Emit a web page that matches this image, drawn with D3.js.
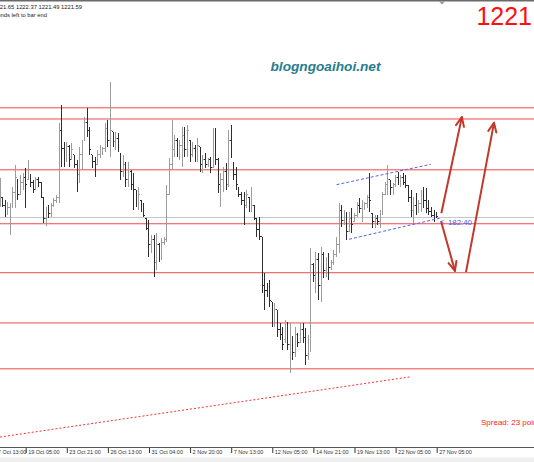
<!DOCTYPE html>
<html>
<head>
<meta charset="utf-8">
<script src="https://cdn.jsdelivr.net/npm/d3@7"></script>
<style>
  body { margin: 0; background: #fff; }
  svg { display: block; font-family: "Liberation Sans", Arial, sans-serif; }
</style>
</head>
<body>
<div id="chart"></div>
<script>
var svgWidth = 534;
var svgHeight = 462;
var plotBottom = 448;

// XAUUSD H4 bars, oldest first
var barOpen = [
  1224.3, 1224.7, 1223.5, 1222.7, 1223.2, 1223.5, 1225.6, 1227.6, 1225.2, 1227.2,
  1227.9, 1227.6, 1228.4, 1227.1, 1226.3, 1227.6, 1227.1, 1224.7, 1221.4, 1222.7,
  1222.2, 1223.5, 1224.3, 1224.8, 1235.6, 1232.7, 1230.8, 1232.9, 1230.8, 1231.6,
  1230.0, 1228.4, 1231.6, 1234.0, 1236.8, 1235.6, 1231.6, 1230.5, 1230.0, 1231.6,
  1232.4, 1232.7, 1235.9, 1234.0, 1235.3, 1233.7, 1234.3, 1231.9, 1228.9, 1230.0,
  1227.6, 1228.9, 1226.8, 1226.0, 1224.3, 1224.3, 1223.2, 1221.4, 1219.8, 1217.1,
  1217.9, 1214.3, 1217.1, 1215.5, 1217.4, 1217.9, 1225.2, 1230.0, 1232.4, 1234.0,
  1232.1, 1233.2, 1234.8, 1232.4, 1234.0, 1231.6, 1232.7, 1231.1, 1232.9, 1230.0,
  1230.8, 1230.0, 1230.8, 1229.5, 1234.8, 1230.8, 1226.8, 1227.6, 1228.9, 1226.8,
  1234.0, 1230.3, 1228.4, 1226.4, 1225.2, 1224.3, 1223.5, 1224.8, 1223.0, 1223.5,
  1221.4, 1219.5, 1218.4, 1210.6, 1209.8, 1209.3, 1207.9, 1205.0, 1206.6, 1203.4,
  1202.6, 1201.8, 1204.2, 1201.0, 1202.3, 1199.8, 1202.6, 1201.3, 1203.4, 1202.1,
  1199.3, 1201.0, 1213.9, 1212.2, 1214.7, 1210.6, 1215.5, 1213.0, 1214.3, 1213.4,
  1214.3, 1215.5, 1217.1, 1222.7, 1221.1, 1221.9, 1219.2, 1221.4, 1220.8, 1221.9,
  1223.5, 1223.0, 1223.5, 1223.8, 1224.7, 1222.2, 1220.8, 1221.4, 1220.8, 1222.4,
  1225.2, 1226.8, 1227.6, 1226.3, 1226.8, 1227.9, 1227.6, 1228.0, 1227.2, 1226.6,
  1224.7, 1222.7, 1223.5, 1222.7, 1223.8, 1225.2, 1224.3, 1223.0, 1222.4, 1221.9, 1221.65
];
var barHigh = [
  1227.9, 1224.7, 1224.3, 1224.0, 1223.8, 1226.4, 1230.0, 1227.6, 1228.4, 1228.7,
  1229.5, 1230.8, 1228.4, 1227.6, 1228.0, 1228.0, 1227.2, 1224.7, 1223.2, 1223.5,
  1223.8, 1224.7, 1225.2, 1236.8, 1239.6, 1233.7, 1233.7, 1233.2, 1233.5, 1231.6,
  1230.8, 1232.9, 1234.0, 1237.7, 1239.2, 1236.1, 1231.6, 1231.3, 1232.4, 1233.2,
  1232.9, 1236.8, 1237.2, 1243.4, 1235.3, 1235.3, 1235.1, 1231.9, 1231.6, 1230.5,
  1230.5, 1229.2, 1228.7, 1226.0, 1226.4, 1224.3, 1223.8, 1221.4, 1221.1, 1218.7,
  1218.7, 1219.0, 1217.4, 1218.2, 1218.4, 1226.8, 1231.1, 1237.2, 1234.8, 1234.3,
  1234.0, 1236.1, 1236.1, 1236.4, 1234.0, 1233.7, 1233.2, 1234.3, 1232.9, 1231.6,
  1231.9, 1231.1, 1231.3, 1235.9, 1235.9, 1231.1, 1228.7, 1229.7, 1230.3, 1235.6,
  1236.4, 1230.3, 1229.7, 1226.4, 1225.6, 1225.6, 1226.0, 1224.8, 1226.4, 1223.5,
  1221.4, 1221.6, 1218.4, 1212.6, 1210.9, 1211.4, 1207.9, 1207.7, 1206.6, 1204.5,
  1203.9, 1205.0, 1204.7, 1204.5, 1202.3, 1203.9, 1202.9, 1204.5, 1204.5, 1203.7,
  1202.6, 1216.6, 1214.2, 1216.0, 1215.8, 1216.8, 1216.0, 1215.1, 1215.8, 1214.7,
  1216.3, 1218.4, 1223.8, 1223.5, 1222.7, 1222.4, 1222.4, 1223.0, 1222.2, 1224.0,
  1224.7, 1224.3, 1224.0, 1225.2, 1228.7, 1222.2, 1221.9, 1221.9, 1222.7, 1225.6,
  1227.2, 1230.0, 1227.6, 1227.1, 1228.4, 1228.9, 1228.4, 1228.7, 1228.4, 1226.8,
  1226.0, 1224.8, 1225.5, 1224.3, 1226.0, 1226.4, 1226.3, 1224.3, 1223.2, 1222.7, 1222.37
];
var barLow = [
  1223.2, 1223.2, 1221.6, 1221.9, 1218.7, 1223.0, 1223.0, 1224.3, 1225.2, 1226.0,
  1223.0, 1227.6, 1226.4, 1225.5, 1226.0, 1226.4, 1224.7, 1220.6, 1220.1, 1221.4,
  1221.6, 1223.2, 1223.8, 1223.8, 1229.7, 1229.7, 1230.5, 1229.7, 1230.8, 1229.5,
  1225.6, 1227.1, 1229.2, 1234.0, 1234.5, 1231.6, 1229.5, 1228.0, 1230.0, 1231.1,
  1231.6, 1232.1, 1232.9, 1231.3, 1232.9, 1232.4, 1232.1, 1227.6, 1228.0, 1226.4,
  1226.4, 1226.0, 1222.7, 1223.2, 1222.7, 1222.4, 1221.6, 1219.5, 1215.1, 1215.8,
  1211.9, 1213.0, 1214.3, 1214.7, 1217.1, 1217.6, 1225.2, 1229.2, 1231.3, 1231.3,
  1230.8, 1229.7, 1231.3, 1231.3, 1230.5, 1231.3, 1230.5, 1230.5, 1228.9, 1228.7,
  1229.5, 1229.7, 1228.7, 1229.5, 1230.0, 1225.5, 1223.2, 1225.6, 1226.0, 1226.4,
  1231.1, 1227.6, 1226.0, 1224.8, 1223.5, 1220.3, 1223.0, 1222.4, 1222.4, 1221.1,
  1218.4, 1217.9, 1209.3, 1206.6, 1208.7, 1207.1, 1203.9, 1203.9, 1202.3, 1201.8,
  1200.1, 1201.3, 1200.1, 1196.4, 1198.5, 1199.0, 1200.6, 1201.3, 1201.3, 1197.7,
  1198.5, 1199.8, 1211.1, 1209.3, 1208.2, 1207.9, 1211.8, 1211.9, 1211.4, 1213.0,
  1213.9, 1215.1, 1215.8, 1220.0, 1220.3, 1217.9, 1219.2, 1219.0, 1220.8, 1221.6,
  1222.2, 1220.8, 1222.7, 1223.0, 1222.4, 1219.8, 1219.8, 1220.3, 1219.8, 1221.9,
  1225.2, 1225.2, 1225.2, 1225.2, 1226.4, 1226.8, 1226.4, 1226.8, 1226.3, 1224.0,
  1221.6, 1220.3, 1221.9, 1222.2, 1222.4, 1223.0, 1222.2, 1221.9, 1221.6, 1220.8, 1221.49
];
var barClose = [
  1226.0, 1223.5, 1222.7, 1223.2, 1223.5, 1225.6, 1227.9, 1225.2, 1227.2, 1227.9,
  1226.8, 1230.0, 1227.1, 1226.0, 1227.6, 1227.1, 1225.2, 1221.4, 1222.7, 1222.2,
  1223.5, 1224.3, 1224.8, 1235.6, 1232.7, 1230.8, 1232.9, 1230.8, 1232.4, 1230.0,
  1228.4, 1231.6, 1233.5, 1236.8, 1235.6, 1232.4, 1230.5, 1229.2, 1231.6, 1232.4,
  1232.7, 1235.9, 1234.0, 1235.6, 1233.7, 1234.3, 1232.4, 1228.9, 1230.0, 1227.6,
  1229.2, 1226.8, 1226.0, 1224.3, 1225.2, 1223.2, 1221.9, 1219.8, 1217.1, 1217.9,
  1214.3, 1217.1, 1215.5, 1217.4, 1217.9, 1225.2, 1230.0, 1232.4, 1234.0, 1232.1,
  1233.2, 1234.8, 1232.4, 1235.6, 1231.6, 1232.7, 1231.1, 1233.2, 1230.0, 1230.8,
  1230.0, 1230.8, 1229.5, 1234.8, 1230.8, 1226.8, 1227.6, 1228.9, 1226.8, 1234.0,
  1232.4, 1228.4, 1226.8, 1225.2, 1224.3, 1223.5, 1225.2, 1223.0, 1223.5, 1221.4,
  1219.5, 1218.4, 1210.6, 1209.8, 1209.3, 1208.2, 1205.0, 1206.6, 1203.4, 1202.6,
  1201.0, 1204.2, 1201.0, 1202.6, 1199.8, 1202.6, 1201.3, 1203.4, 1202.1, 1199.3,
  1201.0, 1213.9, 1212.2, 1214.7, 1210.6, 1215.5, 1213.0, 1214.3, 1213.4, 1214.3,
  1215.5, 1217.1, 1222.7, 1221.1, 1221.9, 1219.2, 1221.4, 1220.3, 1221.9, 1223.5,
  1223.0, 1223.5, 1223.8, 1224.7, 1224.3, 1220.8, 1221.4, 1220.8, 1222.4, 1225.2,
  1226.8, 1227.6, 1226.3, 1226.8, 1227.9, 1227.6, 1228.0, 1227.2, 1226.6, 1224.7,
  1222.7, 1223.5, 1222.7, 1223.8, 1225.2, 1224.3, 1223.0, 1222.4, 1221.9, 1221.4, 1221.59
];

// horizontal support / resistance levels
var levelPrices = [1239.2, 1237.4, 1229.2, 1220.5, 1212.6, 1204.5, 1197.1];
var bidPrice = 1221.59;

// time axis labels (bar index -> label)
var tickIndex = [-3, 10, 26, 42, 58, 74, 90, 106, 122, 138, 154, 170];
var tickLabels = ["17 Oct 13:00", "19 Oct 05:00", "23 Oct 21:00", "26 Oct 13:00", "31 Oct 04:00",
  "2 Nov 20:00", "7 Nov 13:00", "12 Nov 05:00", "14 Nov 21:00", "19 Nov 13:00",
  "22 Nov 05:00", "27 Nov 05:00"];

// drawn objects, [bar index, price]
var channelUpper = [[131, 1226.8], [167.7, 1230.1]];
var channelLower = [[135.9, 1218.0], [171.3, 1221.4]];
var trendLine = [[0, 1186.1], [159.6, 1195.8]];
var arrowLines = [
  [[171.8, 1222.2], [179.8, 1237.7]],
  [[171.7, 1220.9], [177.1, 1212.9]],
  [[181.4, 1212.7], [192.3, 1236.8]]
];

var svg = d3.select("#chart")
  .append("svg")
  .attr("width", svgWidth)
  .attr("height", svgHeight);

svg.append("rect")
  .attr("width", svgWidth)
  .attr("height", svgHeight)
  .attr("fill", "#fff");

var xScale = d3.scaleLinear()
  .domain([0, 170])
  .range([0, 436.7]);

var yScale = d3.scaleLinear()
  .domain([1184.33, 1256.59])
  .range([plotBottom, 0]);

var chartGroup = svg.append("g");

// watermark
chartGroup.append("text")
  .attr("x", 270.5)
  .attr("y", 71)
  .attr("font-size", 13)
  .attr("font-weight", "bold")
  .attr("font-style", "italic")
  .attr("fill", "#267c8c")
  .attr("textLength", 110)
  .attr("lengthAdjust", "spacingAndGlyphs")
  .text("blogngoaihoi.net");

// bid line
chartGroup.append("line")
  .attr("x1", 0).attr("x2", svgWidth)
  .attr("y1", Math.round(yScale(bidPrice)) + 0.5)
  .attr("y2", Math.round(yScale(bidPrice)) + 0.5)
  .attr("stroke", "#c8c8c8")
  .attr("stroke-width", 1);

// level lines
chartGroup.selectAll(".level")
  .data(levelPrices)
  .enter()
  .append("line")
  .attr("class", "level")
  .attr("x1", 0).attr("x2", svgWidth)
  .attr("y1", d => yScale(d))
  .attr("y2", d => yScale(d))
  .attr("stroke", "#f04848")
  .attr("stroke-width", 1);

// bars
var bars = chartGroup.selectAll(".bar")
  .data(d3.range(barOpen.length))
  .enter()
  .append("g")
  .attr("class", "bar")
  .attr("stroke", i => barClose[i] >= barOpen[i] ? "#9c9c9c" : "#2e2e2e")
  .attr("stroke-width", 1)
  .attr("shape-rendering", "crispEdges");

bars.append("line")
  .attr("x1", i => xScale(i)).attr("x2", i => xScale(i))
  .attr("y1", i => yScale(barHigh[i]))
  .attr("y2", i => yScale(barLow[i]));

bars.append("line")
  .attr("x1", i => xScale(i) - 1.2).attr("x2", i => xScale(i))
  .attr("y1", i => yScale(barOpen[i]))
  .attr("y2", i => yScale(barOpen[i]));

bars.append("line")
  .attr("x1", i => xScale(i)).attr("x2", i => xScale(i) + 1.2)
  .attr("y1", i => yScale(barClose[i]))
  .attr("y2", i => yScale(barClose[i]));

// channel
var line = d3.line()
  .x(d => xScale(d[0]))
  .y(d => yScale(d[1]));

[channelUpper, channelLower].forEach(function(pts) {
  chartGroup.append("path")
    .attr("d", line(pts))
    .attr("fill", "none")
    .attr("stroke", "#5066ee")
    .attr("stroke-width", 1)
    .attr("stroke-dasharray", "3,2");
});

// long dotted trend line
chartGroup.append("path")
  .attr("d", line(trendLine))
  .attr("fill", "none")
  .attr("stroke", "#ff3030")
  .attr("stroke-width", 1)
  .attr("stroke-dasharray", "2,2");

// arrows
arrowLines.forEach(function(pts) {
  var x1 = xScale(pts[0][0]), y1 = yScale(pts[0][1]);
  var x2 = xScale(pts[1][0]), y2 = yScale(pts[1][1]);
  var ang = Math.atan2(y2 - y1, x2 - x1);
  var len = 10, spread = 0.42;
  chartGroup.append("line")
    .attr("x1", x1).attr("y1", y1).attr("x2", x2).attr("y2", y2)
    .attr("stroke", "#c0392b").attr("stroke-width", 2);
  [-spread, spread].forEach(function(s) {
    chartGroup.append("line")
      .attr("x1", x2).attr("y1", y2)
      .attr("x2", x2 - len * Math.cos(ang + s))
      .attr("y2", y2 - len * Math.sin(ang + s))
      .attr("stroke", "#c0392b").attr("stroke-width", 2)
      .attr("stroke-linecap", "round");
  });
});

// time-to-close label
chartGroup.append("text")
  .attr("x", 440)
  .attr("y", 224)
  .attr("font-size", 7.5)
  .attr("fill", "#4a60f0")
  .text("<");
chartGroup.append("text")
  .attr("x", 448)
  .attr("y", 224.5)
  .attr("font-size", 7.8)
  .attr("fill", "#4a60f0")
  .text("182:40");

// spread text
chartGroup.append("text")
  .attr("x", 481)
  .attr("y", 425)
  .attr("font-size", 8)
  .attr("fill", "#ff2020")
  .text("Spread: 23 points");

// big price
chartGroup.append("text")
  .attr("x", 532)
  .attr("y", 25)
  .attr("text-anchor", "end")
  .attr("font-size", 25)
  .attr("fill", "#ff1010")
  .text("1221");

// header lines
chartGroup.append("text")
  .attr("x", 82)
  .attr("y", 8.5)
  .attr("text-anchor", "end")
  .attr("font-size", 5.8)
  .attr("fill", "#222")
  .text("XAUUSD,H4  1221.65 1222.37 1221.49 1221.59");
chartGroup.append("text")
  .attr("x", 47)
  .attr("y", 17)
  .attr("text-anchor", "end")
  .attr("font-size", 5.8)
  .attr("fill", "#222")
  .text("2 hours 17 minutes 20 seconds left to bar end");

// top frame line and shift marker
svg.append("rect")
  .attr("x", 0).attr("y", 0)
  .attr("width", svgWidth).attr("height", 1.5)
  .attr("fill", "#6a6a6a");
svg.append("path")
  .attr("d", "M439,1.5L445,1.5L442,4.5Z")
  .attr("fill", "#9a9a9a");

// bottom time axis
svg.append("rect")
  .attr("x", 0).attr("y", 457.5)
  .attr("width", svgWidth).attr("height", 5)
  .attr("fill", "#efefef");

var bottomAxis = d3.axisBottom(xScale)
  .tickValues(tickIndex)
  .tickFormat((d, i) => tickLabels[i])
  .tickSize(5)
  .tickSizeOuter(0);

var xAxis = svg.append("g")
  .attr("transform", `translate(0, ${plotBottom})`)
  .call(bottomAxis);

xAxis.select(".domain").remove();
xAxis.selectAll(".tick line").attr("stroke", "#333");
xAxis.selectAll(".tick text")
  .attr("text-anchor", "start")
  .attr("x", 2)
  .attr("y", 2.5)
  .attr("dy", "0.71em")
  .attr("fill", "#333")
  .attr("font-family", "Liberation Sans, Arial, sans-serif")
  .attr("font-size", 5.5);

svg.append("line")
  .attr("x1", 0).attr("x2", svgWidth)
  .attr("y1", plotBottom - 0.5).attr("y2", plotBottom - 0.5)
  .attr("stroke", "#555")
  .attr("stroke-width", 1);
</script>
</body>
</html>
